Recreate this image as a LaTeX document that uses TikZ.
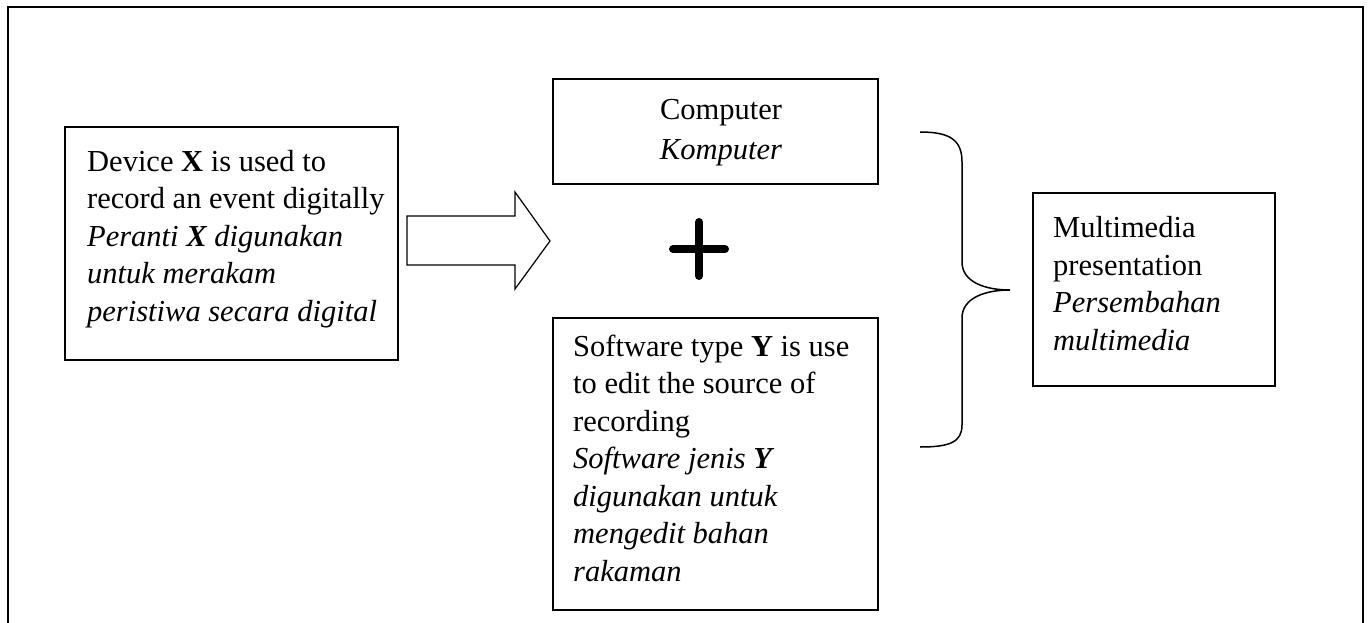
\documentclass[tikz,border=0pt]{standalone}
\usepackage{fontspec}
\setmainfont{Liberation Serif}
\begin{document}
\begin{tikzpicture}[x=1pt,y=-1pt,
  frame/.style={draw, line width=2pt},
  boxline/.style={draw, line width=2pt},
  txt/.style={inner sep=0pt, anchor=base west, align=left, font=\fontsize{30.5}{37.5}\selectfont},
  ctxt/.style={inner sep=0pt, anchor=base, align=center, font=\fontsize{30.5}{40}\selectfont},
  bigarrow/.style={draw, line width=1.2pt, fill=white, line join=miter},
  brace/.style={draw, line width=1.5pt},
  plussign/.style={line width=8pt, line cap=round}
]
\useasboundingbox (0,0) rectangle (1368,623);
\fill[white] (0,0) rectangle (1368,623);
% outer frame (bottom edge falls outside)
\draw[frame] (8,640) -- (8,7) -- (1363,7) -- (1363,640);

% boxes
\draw[boxline] (65,127) rectangle (398,360);
\coordinate (dev) at (231.5,243.5);
\draw[boxline] (553,79) rectangle (878,184);
\coordinate (comp) at (715.5,131.5);
\draw[boxline] (553,318) rectangle (878,610);
\coordinate (soft) at (715.5,464);
\draw[boxline] (1033,193) rectangle (1275,386);
\coordinate (multi) at (1154,289.5);

% texts (base anchor = baseline of the last line)
\node[txt] (devtxt) at (87,321) {Device \textbf{X} is used to\\record an event digitally\\\textit{Peranti \textbf{X} digunakan}\\\textit{untuk merakam}\\\textit{peristiwa secara digital}};
\node[ctxt] (comptxt) at (721,160) {Computer\\\textit{Komputer}};
\node[txt] (softtxt) at (573,581) {Software type \textbf{Y} is use\\to edit the source of\\recording\\\textit{Software jenis \textbf{Y}}\\\textit{digunakan untuk}\\\textit{mengedit bahan}\\\textit{rakaman}};
\node[txt] (multitxt) at (1053,350) {Multimedia\\presentation\\\textit{Persembahan}\\\textit{multimedia}};

% block arrow
\draw[bigarrow] (407,216) -- (515,216) -- (515,192) -- (550,241) -- (515,289) -- (515,265) -- (407,265) -- cycle;

% plus sign
\coordinate (plusc) at (699,249);
\draw[plussign] (673,249) -- (725,249);
\draw[plussign] (699,222) -- (699,276);

% brace
\draw[brace] (920,132) .. controls (950,132) and (962,140) .. (962,162)
  -- (962,262) .. controls (962,282) and (985,290) .. (1010,290)
  .. controls (985,290) and (962,298) .. (962,318)
  -- (962,425) .. controls (962,442) and (950,447) .. (920,447);
\end{tikzpicture}
\end{document}
